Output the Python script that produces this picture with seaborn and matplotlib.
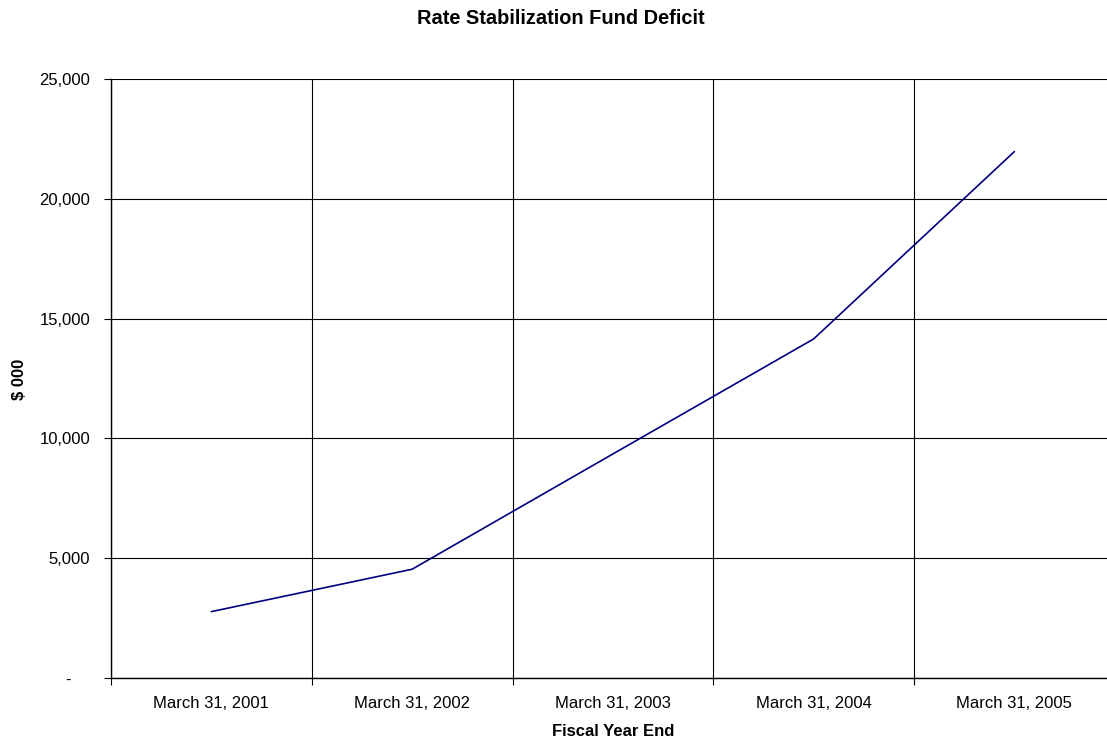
import matplotlib
matplotlib.use("Agg")
import matplotlib.pyplot as plt
import seaborn as sns
import pandas as pd
from matplotlib.ticker import FixedLocator, FuncFormatter

categories = ["March 31, 2001", "March 31, 2002", "March 31, 2003",
              "March 31, 2004", "March 31, 2005"]
deficit = [2770, 4540, 9350, 14150, 21970]
y_ticks = [0, 5000, 10000, 15000, 20000, 25000]

df = pd.DataFrame({"pos": range(len(categories)), "deficit": deficit})

sns.set_theme(style="white")
plt.rcParams["font.family"] = ["Liberation Sans", "DejaVu Sans"]
plt.rcParams["text.color"] = "black"
plt.rcParams["axes.labelcolor"] = "black"
plt.rcParams["xtick.color"] = "black"
plt.rcParams["ytick.color"] = "black"

W, H = 1107, 739
fig = plt.figure(figsize=(W / 100, H / 100), dpi=100)
left, right, top, bottom = 111, 1114.75, 79, 678
ax = fig.add_axes([left / W, 1 - bottom / H, (right - left) / W, (bottom - top) / H])

sns.lineplot(data=df, x="pos", y="deficit", ax=ax, color="#000080",
             linewidth=1.2, zorder=3)

n = len(categories)
ax.set_xlim(-0.5, n - 0.5)
ax.set_ylim(0, 25000)

ax.set_xticks(range(n))
ax.set_xticklabels(categories, fontsize=12)
ax.xaxis.set_minor_locator(FixedLocator([i - 0.5 for i in range(n + 1)]))
ax.tick_params(axis="x", which="major", length=0, pad=13, labelcolor="black")
ax.tick_params(axis="x", which="minor", length=5, width=0.8, direction="out",
               color="black", bottom=True)

ax.set_yticks(y_ticks)
ax.yaxis.set_major_formatter(FuncFormatter(
    lambda v, p: "-    " if v == 0 else f"{int(v):,}"))
ax.tick_params(axis="y", which="major", length=5, width=0.8, direction="out",
               pad=10, labelsize=12, color="black", labelcolor="black", left=True)

ax.grid(False)
ax.grid(axis="y", which="major", color="black", linewidth=0.8)
ax.grid(axis="x", which="minor", color="black", linewidth=0.8)
ax.set_axisbelow(True)

for s in ["top", "right"]:
    ax.spines[s].set_visible(False)
for s in ["left", "bottom"]:
    ax.spines[s].set_color("black")
    ax.spines[s].set_linewidth(1.0)

ax.set_xlabel("")
ax.set_ylabel("")

fig.text(560.5 / W, 1 - 19 / H, "Rate Stabilization Fund Deficit",
         ha="center", va="center", fontsize=14.4, fontweight="bold",
         color="black")
fig.text(613 / W, 1 - 731 / H, "Fiscal Year End",
         ha="center", va="center", fontsize=12, fontweight="bold",
         color="black")
fig.text(20 / W, 1 - 379 / H, "$ 000", rotation=90,
         ha="center", va="center", fontsize=12, fontweight="bold",
         color="black")

fig.savefig("out.png", dpi=100)
